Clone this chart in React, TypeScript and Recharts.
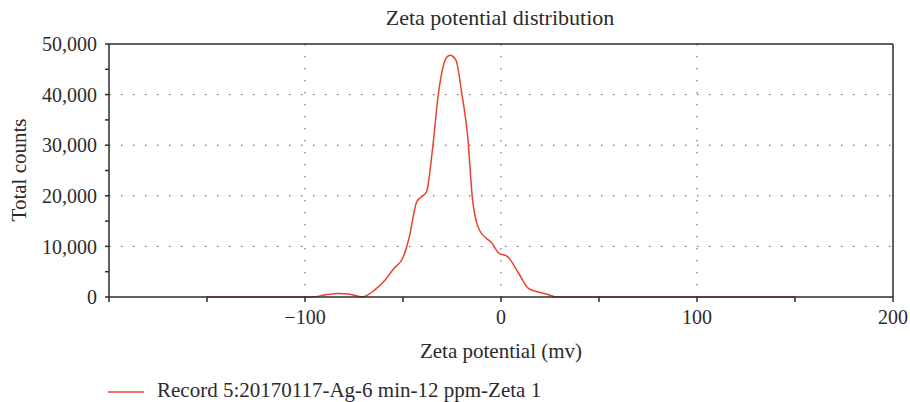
import { LineChart, Line, XAxis, YAxis, CartesianGrid, ReferenceLine } from 'recharts';

// Zeta potential distribution — single smoothed trace, serif labels, dotted grid.

const potentials = [-150, -100, -96, -90, -83, -77, -71, -65, -59, -55, -50, -47, -43, -38, -35, -32, -28, -26, -23, -20, -17, -14.5, -11, -4.5, -1, 3, 9, 14, 19, 24, 28, 50, 100, 150];
const counts = [0, 0, 0, 400, 700, 550, 0, 1200, 3400, 5500, 7800, 11500, 18800, 20800, 29000, 40000, 47200, 47800, 46800, 40200, 31700, 19200, 13200, 10600, 8600, 8100, 4700, 1700, 1000, 500, 0, 0, 0, 0];

const xTicks = [-200, -150, -100, -50, 0, 50, 100, 150, 200];
const xLabelled = [-100, 0, 100, 200];
const yTicks = [0, 5000, 10000, 15000, 20000, 25000, 30000, 35000, 40000, 45000, 50000];

const seriesName = 'Record 5:20170117-Ag-6 min-12 ppm-Zeta 1';

const data = potentials.map((p, i) => ({ p, c: counts[i] }));

const FONT = '"Liberation Serif", "DejaVu Serif", serif';
const INK = '#2b2b2b';
const RED = '#e8432c';

const fmtX = (v: number) => (xLabelled.includes(v) ? (v < 0 ? '\u2212' + Math.abs(v) : String(v)) : '');
const fmtY = (v: number) => (v % 10000 === 0 ? v.toLocaleString('en-US') : '');

export default function App() {
  return (
    <div style={{ position: 'absolute', left: 0, top: 0, width: 910, height: 402, fontFamily: FONT, color: INK }}>
      <div style={{ position: 'absolute', top: 6, left: 0, width: 1000, textAlign: 'center', fontSize: 22, lineHeight: '24px' }}>
        Zeta potential distribution
      </div>
      <LineChart width={910} height={402} data={data} margin={{ top: 44, right: 17, bottom: 45, left: 0 }}>
        <CartesianGrid
          stroke="#555"
          strokeDasharray="1.5 10.5"
          horizontalValues={[10000, 20000, 30000, 40000]}
          verticalValues={[-100, 0, 100]}
        />
        <XAxis
          dataKey="p"
          type="number"
          domain={[-200, 200]}
          ticks={xTicks}
          tickFormatter={fmtX}
          interval={0}
          height={60}
          tickSize={5}
          tickMargin={8}
          stroke={INK}
          strokeWidth={1.5}
          tick={{ fill: INK, fontSize: 20, fontFamily: FONT }}
          label={{ value: 'Zeta potential (mv)', position: 'insideBottom', offset: -1, fill: INK, fontSize: 21, fontFamily: FONT }}
        />
        <YAxis
          type="number"
          domain={[0, 50000]}
          ticks={yTicks}
          tickFormatter={fmtY}
          interval={0}
          width={109}
          tickSize={4}
          tickMargin={8}
          stroke={INK}
          strokeWidth={1.5}
          tick={{ fill: INK, fontSize: 20, fontFamily: FONT }}
          label={{
            value: 'Total counts',
            content: () => (
              <text x={19} y={170} transform="rotate(-90 19 170)" textAnchor="middle" dominantBaseline="central" fill={INK} fontSize={21} fontFamily={FONT}>
                Total counts
              </text>
            ),
          }}
        />
        <ReferenceLine y={50000} stroke={INK} strokeWidth={1.5} />
        <ReferenceLine x={200} stroke={INK} strokeWidth={1.5} />
        <Line
          type="monotone"
          dataKey="c"
          name={seriesName}
          stroke={RED}
          strokeWidth={1.5}
          dot={false}
          isAnimationActive={false}
        />
      </LineChart>
      <svg width={36} height={4} style={{ position: 'absolute', left: 108, top: 390 }}>
        <line x1={0} y1={2} x2={36} y2={2} stroke={RED} strokeWidth={1.5} />
      </svg>
      <div style={{ position: 'absolute', left: 157, top: 378, fontSize: 21, lineHeight: '24px', whiteSpace: 'nowrap' }}>
        {seriesName}
      </div>
    </div>
  );
}
